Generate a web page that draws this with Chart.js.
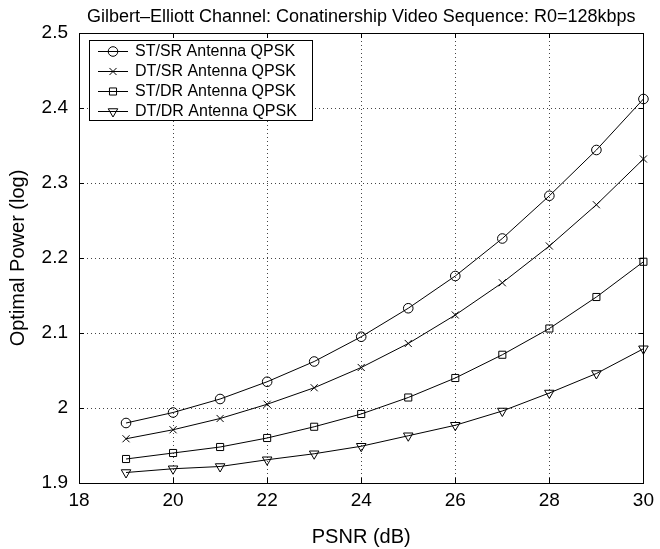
<!DOCTYPE html>
<html>
<head>
<meta charset="utf-8">
<script src="https://cdn.jsdelivr.net/npm/chart.js@4.4.0/dist/chart.umd.min.js"></script>
<style>
  html, body { margin: 0; padding: 0; background: #fff; }
</style>
</head>
<body>
<canvas id="c" width="660" height="549"></canvas>
<script>
// PSNR (dB) on x, optimal power (log) on y
const psnr = [19, 20, 21, 22, 23, 24, 25, 26, 27, 28, 29, 30];
const stSr = [1.980, 1.994, 2.012, 2.035, 2.062, 2.095, 2.133, 2.176, 2.226, 2.283, 2.344, 2.412];
const dtSr = [1.959, 1.971, 1.986, 2.005, 2.027, 2.054, 2.086, 2.124, 2.167, 2.216, 2.271, 2.332];
const stDr = [1.932, 1.940, 1.948, 1.960, 1.975, 1.992, 2.014, 2.040, 2.071, 2.106, 2.148, 2.195];
const dtDr = [1.914, 1.919, 1.922, 1.931, 1.939, 1.949, 1.963, 1.977, 1.996, 2.020, 2.046, 2.079];
const seriesNames = ['ST/SR Antenna QPSK', 'DT/SR Antenna QPSK', 'ST/DR Antenna QPSK', 'DT/DR Antenna QPSK'];
const xTicks = [18, 20, 22, 24, 26, 28, 30];
const yTicks = [1.9, 2, 2.1, 2.2, 2.3, 2.4, 2.5];
const chartTitle = 'Gilbert\u2013Elliott Channel: Conatinership Video Sequence: R0=128kbps';

const FONT = '"Liberation Sans", Arial, Helvetica, sans-serif';

const markers = [
  { pointStyle: 'circle', radius: 4.8, rotation: 0 },
  { pointStyle: 'crossRot', radius: 5, rotation: 0 },
  { pointStyle: 'rect', radius: 5, rotation: 0 },
  { pointStyle: 'triangle', radius: 5.5, rotation: 180 }
];

function makeSet(label, ys, m) {
  return {
    label: label,
    data: psnr.map((x, i) => ({ x: x, y: ys[i] })),
    borderColor: '#000',
    borderWidth: 1,
    backgroundColor: 'rgba(0,0,0,0)',
    pointBorderColor: '#000',
    pointBackgroundColor: 'rgba(0,0,0,0)',
    pointBorderWidth: 1,
    pointStyle: m.pointStyle,
    pointRadius: m.radius,
    pointRotation: m.rotation,
    tension: 0,
    fill: false,
    clip: false
  };
}

// dotted grid behind the data
const dottedGrid = {
  id: 'dottedGrid',
  beforeDatasetsDraw(chart) {
    const ctx = chart.ctx;
    const a = chart.chartArea;
    const xs = chart.scales.x, ys = chart.scales.y;
    ctx.save();
    ctx.strokeStyle = '#444';
    ctx.lineWidth = 1;
    ctx.setLineDash([1, 3]);
    xTicks.forEach(v => {
      const px = Math.round(xs.getPixelForValue(v)) + 0.5;
      ctx.beginPath();
      ctx.moveTo(px, a.top); ctx.lineTo(px, a.bottom);
      ctx.stroke();
    });
    yTicks.forEach(v => {
      const py = Math.round(ys.getPixelForValue(v)) + 0.5;
      ctx.beginPath();
      ctx.moveTo(a.left, py); ctx.lineTo(a.right, py);
      ctx.stroke();
    });
    ctx.restore();
  }
};

// frame, inward ticks, title and legend like the original figure
const decorations = {
  id: 'decorations',
  afterDraw(chart) {
    const ctx = chart.ctx;
    const a = chart.chartArea;
    const xs = chart.scales.x, ys = chart.scales.y;
    ctx.save();
    ctx.setLineDash([]);
    ctx.strokeStyle = '#000';
    ctx.lineWidth = 1;
    ctx.strokeRect(Math.round(a.left) + 0.5, Math.round(a.top) + 0.5,
      Math.round(a.right - a.left), Math.round(a.bottom - a.top));

    const tl = 5;
    ctx.beginPath();
    xTicks.forEach(v => {
      const px = Math.round(xs.getPixelForValue(v)) + 0.5;
      ctx.moveTo(px, a.bottom); ctx.lineTo(px, a.bottom - tl);
      ctx.moveTo(px, a.top); ctx.lineTo(px, a.top + tl);
    });
    yTicks.forEach(v => {
      const py = Math.round(ys.getPixelForValue(v)) + 0.5;
      ctx.moveTo(a.left, py); ctx.lineTo(a.left + tl, py);
      ctx.moveTo(a.right, py); ctx.lineTo(a.right - tl, py);
    });
    ctx.stroke();

    // title
    ctx.fillStyle = '#000';
    ctx.font = '18px ' + FONT;
    ctx.textAlign = 'center';
    ctx.textBaseline = 'middle';
    ctx.fillText(chartTitle, (a.left + a.right) / 2, 17);

    // legend
    const bx = a.left + 10, by = 40, bw = 223, bh = 80;
    ctx.fillStyle = '#fff';
    ctx.fillRect(bx, by, bw, bh);
    ctx.strokeRect(bx + 0.5, by + 0.5, bw, bh);
    ctx.font = '16px ' + FONT;
    ctx.textAlign = 'left';
    chart.data.datasets.forEach((ds, i) => {
      const cy = by + 11 + i * 20;
      ctx.beginPath();
      ctx.moveTo(bx + 9, cy + 0.5); ctx.lineTo(bx + 39, cy + 0.5);
      ctx.stroke();
      ctx.fillStyle = 'rgba(0,0,0,0)';
      Chart.helpers.drawPoint(ctx, {
        pointStyle: ds.pointStyle, radius: ds.pointRadius,
        rotation: ds.pointRotation, borderWidth: 1
      }, bx + 24, cy + 0.5);
      ctx.fillStyle = '#000';
      ctx.fillText(ds.label, bx + 46, cy + 1);
    });
    ctx.restore();
  }
};

const chart = new Chart(document.getElementById('c').getContext('2d'), {
  type: 'line',
  data: {
    datasets: [
      makeSet(seriesNames[0], stSr, markers[0]),
      makeSet(seriesNames[1], dtSr, markers[1]),
      makeSet(seriesNames[2], stDr, markers[2]),
      makeSet(seriesNames[3], dtDr, markers[3])
    ]
  },
  options: {
    responsive: false,
    animation: false,
    layout: { padding: { left: 0, right: 11, top: 33, bottom: 0 } },
    plugins: {
      legend: { display: false },
      title: { display: false },
      tooltip: { enabled: false }
    },
    scales: {
      x: {
        type: 'linear',
        min: 18, max: 30,
        afterFit(s) { s.height = 66; },
        afterBuildTicks(s) { s.ticks = xTicks.map(v => ({ value: v })); },
        ticks: {
          color: '#000', padding: 6,
          font: { family: FONT, size: 19 },
          maxRotation: 0
        },
        grid: { display: false, drawTicks: false },
        border: { display: false },
        title: {
          display: true, text: 'PSNR (dB)', color: '#000',
          font: { family: FONT, size: 20 },
          padding: { top: 0, bottom: 0 }
        }
      },
      y: {
        type: 'linear',
        min: 1.9, max: 2.5,
        afterFit(s) { s.width = 79; },
        afterBuildTicks(s) { s.ticks = yTicks.map(v => ({ value: v })); },
        ticks: {
          color: '#000', padding: 11,
          font: { family: FONT, size: 19 },
          callback: v => String(Math.round(v * 10) / 10)
        },
        grid: { display: false, drawTicks: false },
        border: { display: false },
        title: {
          display: true, text: 'Optimal Power (log)', color: '#000',
          font: { family: FONT, size: 20 },
          padding: { top: 6, bottom: 0 }
        }
      }
    }
  },
  plugins: [dottedGrid, decorations]
});
</script>
</body>
</html>
